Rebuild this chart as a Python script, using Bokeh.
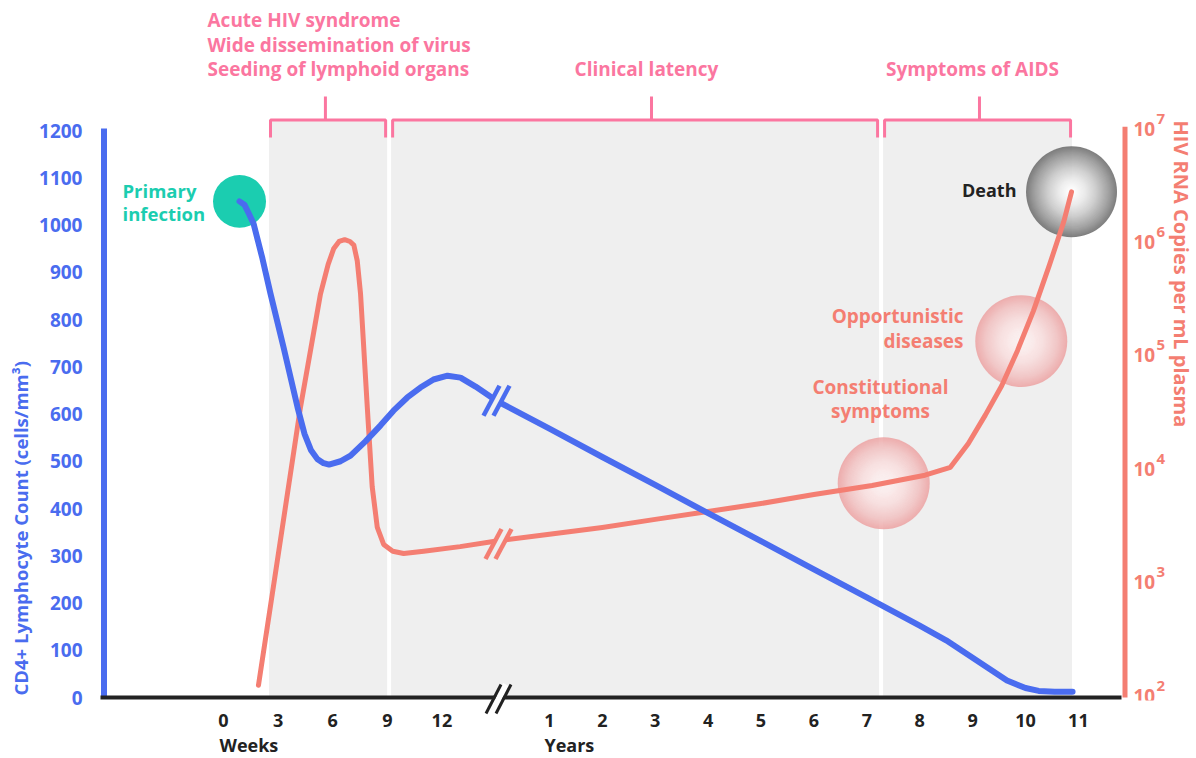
import numpy as np
from bokeh.plotting import figure
from bokeh.models import Range1d, LogScale, FixedTicker
from bokeh.core.properties import value
from bokeh.embed import file_html
from bokeh.resources import INLINE

# ---------------- data ----------------
# CD4+ lymphocyte count, cells/mm3
cd4_weeks = [0.88, 1.15, 1.37, 1.65, 2.14, 2.58, 3.30, 4.07, 4.45, 4.80, 5.15, 5.50, 5.80,
             6.43, 6.98, 7.80, 8.63, 9.34, 10.1, 10.82, 11.54, 12.31, 13.02, 13.85, 15.0]
cd4_weeks_count = [1050, 1043, 1026, 1003, 929, 855, 741, 614, 558, 524, 505, 496, 493,
                   500, 512, 542, 576, 607, 635, 656, 673, 681, 677, 658, 628]
cd4_years = [0, 1, 2, 3, 4, 5, 6, 7, 8, 8.5, 8.95, 9.3, 9.65, 10.0, 10.25, 10.55, 10.89]
cd4_years_count = [628, 569, 509, 450, 390, 331, 271, 212, 152, 121, 88, 62, 36, 20, 14, 12, 12]

# HIV RNA copies per mL plasma
rna_weeks = [1.92, 3.0, 4.23, 5.33, 5.75, 6.06, 6.35, 6.66, 6.95, 7.16, 7.35, 7.53,
             7.90, 8.17, 8.45, 8.80, 9.30, 9.90, 11.0, 13.0, 15.0]
rna_weeks_copies = [128, 1780, 36300, 363000, 661000, 912000, 1050000, 1090000, 1050000,
                    977000, 708000, 363000, 36300, 7240, 3160, 2240, 1950, 1860, 1950, 2140, 2400]
rna_years = [0, 1, 2, 3, 4, 5, 6, 7.1, 8.1, 8.58, 8.92, 9.24, 9.55, 9.85, 10.15, 10.45, 10.72, 10.87]
rna_years_copies = [2400, 2750, 3160, 3720, 4370, 5130, 6170, 7410, 9120, 10700, 17400,
                    30900, 56200, 115000, 257000, 646000, 1550000, 2880000]

week_ticks = [0, 3, 6, 9, 12]
year_ticks = [1, 2, 3, 4, 5, 6, 7, 8, 9, 10, 11]
cd4_ticks = [0, 100, 200, 300, 400, 500, 600, 700, 800, 900, 1000, 1100, 1200]
rna_ticks = [1e2, 1e3, 1e4, 1e5, 1e6, 1e7]
rna_tick_base = ["10", "10", "10", "10", "10", "10"]
rna_tick_exp = ["2", "3", "4", "5", "6", "7"]

stage1_lines = ["Acute HIV syndrome", "Wide dissemination of virus", "Seeding of lymphoid organs"]
stage2_label = "Clinical latency"
stage3_label = "Symptoms of AIDS"
acute_start_week = 2.5
latency_start_week = 9.1
aids_start_year = 7.27
death_year = 10.88
stage_mark_weeks = 5.6
stage_mark_years = [2.93, 9.13]
constitutional_year = 7.32
opportunistic_year = 9.92

# ---------------- styling / layout ----------------
BG = "#efefef"
BLUE = "#4a6cef"
SALMON = "#f47e72"
PINK = "#fb76a0"
GREEN = "#1bcdb0"
DARK = "#222222"
FONTNAME = "Open Sans"
FONT = value(FONTNAME)

W, H = 1196, 756
FL = 97         # frame left
FB = 700        # frame bottom
K = 0.4725      # px per cell/mm3
DEC = 113.4     # px per decade
Y0 = 697        # px of the zero line

def Y(py):      # px -> cd4 units (for placing decorations)
    return (Y0 - py) / K

def R(py):      # px -> rna units
    return 10 ** (2 + (Y0 - py) / DEC)

def PY(v):
    return Y0 - v * K

def PYR(c):
    return Y0 - (np.log10(c) - 2) * DEC

# time scale (weeks, axis break, then years)
WEEK0_PX, PX_PER_WEEK, BREAK_WEEK, PX_PER_YEAR = 223.0, 18.2, 15, 52.9

def tx_w(w):
    return WEEK0_PX + PX_PER_WEEK * np.asarray(w, dtype=float)

def tx_y(y):
    return float(tx_w(BREAK_WEEK)) + PX_PER_YEAR * np.asarray(y, dtype=float)

p = figure(width=W, height=H, output_backend="svg", toolbar_location=None,
           x_range=Range1d(FL, W), y_range=Range1d(Y(FB), Y(0)),
           min_border_left=FL, min_border_right=0, min_border_top=0, min_border_bottom=H - FB)
p.extra_y_ranges = {"rna": Range1d(R(FB), R(0))}
p.extra_y_scales = {"rna": LogScale()}
p.xgrid.visible = False
p.ygrid.visible = False
p.outline_line_color = None
p.background_fill_color = "white"
p.border_fill_color = "white"

# axes
p.yaxis.ticker = FixedTicker(ticks=cd4_ticks)
p.yaxis.axis_line_color = None
p.yaxis.major_tick_line_color = None
p.yaxis.minor_tick_line_color = None
p.yaxis.major_label_text_color = BLUE
p.yaxis.major_label_text_font = FONTNAME
p.yaxis.major_label_text_font_style = "bold"
p.yaxis.major_label_text_font_size = "19px"
p.yaxis.major_label_standoff = 9

xt = [float(v) for v in tx_w(week_ticks)] + [float(v) for v in tx_y(year_ticks)]
p.xaxis.ticker = FixedTicker(ticks=xt)
p.xaxis.major_label_overrides = {t: str(l) for t, l in zip(xt, week_ticks + year_ticks)}
p.xaxis.axis_line_color = None
p.xaxis.major_tick_line_color = None
p.xaxis.minor_tick_line_color = None
p.xaxis.major_label_text_color = DARK
p.xaxis.major_label_text_font = FONTNAME
p.xaxis.major_label_text_font_style = "bold"
p.xaxis.major_label_text_font_size = "18px"
p.xaxis.major_label_standoff = 7

# stage shading
A = float(tx_w(acute_start_week))
B = float(tx_w(latency_start_week))
C = float(tx_y(aids_start_year))
D = float(tx_y(death_year))
st_left = [A, B + 2, C + 2]
st_right = [B - 2, C - 2, D]
p.quad(left=st_left, right=st_right, bottom=0, top=Y(120), fill_color=BG, line_color=None)

# brackets
marks = [float(tx_w(stage_mark_weeks))] + [float(v) for v in tx_y(stage_mark_years)]
bx, by = [], []
for l, r, m in zip(st_left, st_right, marks):
    bx.append([l + 1.5, l + 1.5, r - 1.5, r - 1.5])
    by.append([Y(137), Y(119.5), Y(119.5), Y(137)])
    bx.append([m, m])
    by.append([Y(119.5), Y(96)])
p.multi_line(bx, by, line_color=PINK, line_width=3)

# stage labels
p.text(x=[207, 207, 207], y=[Y(19), Y(44), Y(68)], text=stage1_lines, text_color=PINK,
       text_font=FONT, text_font_style="bold", text_font_size="19px",
       text_align="left", text_baseline="middle")
p.text(x=[646, 972], y=[Y(68), Y(68)], text=[stage2_label, stage3_label], text_color=PINK,
       text_font=FONT, text_font_style="bold", text_font_size="19px",
       text_align="center", text_baseline="middle")

# axis lines
p.segment(x0=[103.5], y0=[0], x1=[103.5], y1=[cd4_ticks[-1] + 4], line_color=BLUE, line_width=6)
p.segment(x0=[1124.5], y0=[rna_ticks[0]], x1=[1124.5], y1=[rna_ticks[-1] * 1.08],
          line_color=SALMON, line_width=5, y_range_name="rna")
p.segment(x0=[100], y0=[0], x1=[1121], y1=[0], line_color=DARK, line_width=4)

# left axis title
p.text(x=[20], y=[Y(695)], text=["CD4+ Lymphocyte Count (cells/mm³)"], angle=np.pi / 2,
       text_color=BLUE, text_font=FONT, text_font_style="bold", text_font_size="18.5px",
       text_align="left", text_baseline="middle", level="annotation")

# right axis labels
p.text(x=[1133] * 6, y=rna_ticks, text=rna_tick_base, y_range_name="rna", y_offset=-2,
       text_color=SALMON, text_font=FONT, text_font_style="bold", text_font_size="19px",
       text_align="left", text_baseline="middle")
p.text(x=[1156] * 6, y=rna_ticks, text=rna_tick_exp, y_range_name="rna", y_offset=-12,
       text_color=SALMON, text_font=FONT, text_font_style="bold", text_font_size="15px",
       text_align="left", text_baseline="middle")
p.text(x=[1181], y=[Y(120)], text=["HIV RNA Copies per mL plasma"], angle=-np.pi / 2,
       text_color=SALMON, text_font=FONT, text_font_style="bold", text_font_size="20px",
       text_align="left", text_baseline="middle")

# spheres (radial gradient approximated by stacked translucent discs)
def sphere(xc, yc, r, c_center, c_edge, a_edge, y_range_name="default", n=40, pw=2.0):
    radii = r * (1 - np.arange(n) / n)
    alphas = [a_edge] + [1 - (radii[i] / radii[i - 1]) ** pw for i in range(1, n)]
    cols = [c_edge] + [c_center] * (n - 1)
    p.scatter(x=[xc] * n, y=[yc] * n, size=list(2 * radii), marker="circle",
              fill_color=cols, fill_alpha=alphas, line_color=None, y_range_name=y_range_name)

rx = np.concatenate([tx_w(rna_weeks), tx_y(rna_years)])
ry = np.array(rna_weeks_copies + rna_years_copies, dtype=float)
log_r = np.log10(ry)
for yr in (constitutional_year, opportunistic_year):
    xs = float(tx_y(yr))
    ys = 10 ** float(np.interp(xs, rx, log_r))
    sphere(xs, ys, 46, "#fcf1f1", "#ec9e9e", 0.8, y_range_name="rna", pw=2.2)
sphere(float(rx[-1]), float(ry[-1]), 45.5, "#ffffff", "#6a6a6a", 0.85, y_range_name="rna", pw=1.7)

# primary infection dot
p.scatter(x=[float(tx_w(cd4_weeks[0]))], y=[cd4_weeks_count[0]], marker="circle", size=53,
          fill_color=GREEN, line_color=None)

# curves
p.line(rx, ry, line_color=SALMON, line_width=5, line_cap="round", line_join="round",
       y_range_name="rna")
cx = np.concatenate([tx_w(cd4_weeks), tx_y(cd4_years)])
cy = np.array(cd4_weeks_count + cd4_years_count, dtype=float)
p.line(cx, cy, line_color=BLUE, line_width=6, line_cap="round", line_join="round")

# break marks
def slashes(xc, pyc, color, width, gap_color, level="glyph", dx=8, dy=15, off=5):
    p.segment(x0=[xc - dx], y0=[Y(pyc + dy)], x1=[xc + dx], y1=[Y(pyc - dy)],
              line_color=gap_color, line_width=6, level=level)
    p.segment(x0=[xc - off - dx, xc + off - dx], y0=[Y(pyc + dy)] * 2,
              x1=[xc - off + dx, xc + off + dx], y1=[Y(pyc - dy)] * 2,
              line_color=color, line_width=width, level=level)

xb = float(tx_w(BREAK_WEEK))
slashes(xb, PY(cd4_weeks_count[-1]), BLUE, 4.5, BG)
slashes(xb + 2, PYR(rna_weeks_copies[-1]) + 3, SALMON, 4.5, BG)
slashes(xb + 2, 698.5, DARK, 3, "white", level="annotation", dx=7.5, dy=14.5)

# annotations
p.text(x=[122, 122], y=[Y(190), Y(213)], text=["Primary", "infection"], text_color=GREEN,
       text_font=FONT, text_font_style="bold", text_font_size="18.5px",
       text_align="left", text_baseline="middle")
p.text(x=[1016], y=[Y(189)], text=["Death"], text_color=DARK,
       text_font=FONT, text_font_style="bold", text_font_size="18px",
       text_align="right", text_baseline="middle")
p.text(x=[963, 963], y=[Y(315), Y(340)], text=["Opportunistic", "diseases"], text_color=SALMON,
       text_font=FONT, text_font_style="bold", text_font_size="19px",
       text_align="right", text_baseline="middle")
p.text(x=[880, 880], y=[Y(386), Y(410)], text=["Constitutional", "symptoms"], text_color=SALMON,
       text_font=FONT, text_font_style="bold", text_font_size="19px",
       text_align="center", text_baseline="middle")
p.text(x=[float(tx_w(week_ticks[0])) - 4, float(tx_y(year_ticks[0])) - 5], y=[Y(744), Y(744)],
       text=["Weeks", "Years"], text_color=DARK,
       text_font=FONT, text_font_style="bold", text_font_size="18px",
       text_align="left", text_baseline="middle", level="annotation")

open("out.html", "w").write(file_html(p, INLINE))
